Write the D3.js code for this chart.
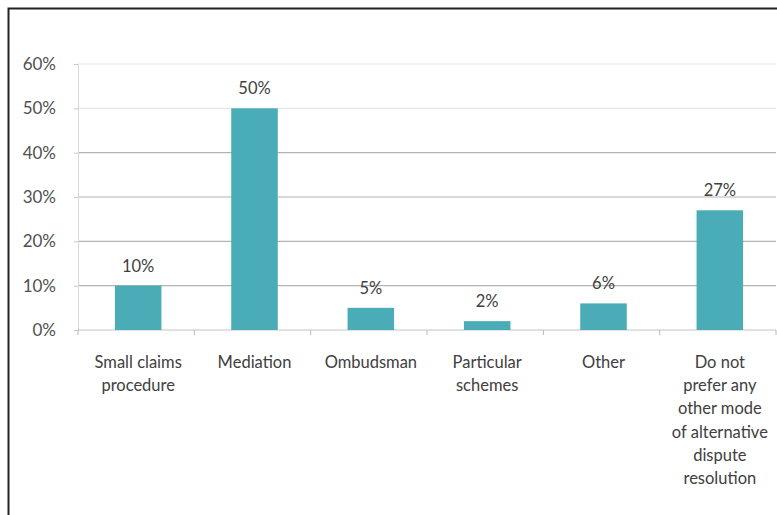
<!DOCTYPE html>
<html>
<head>
<meta charset="utf-8">
<script src="https://cdn.jsdelivr.net/npm/d3@7"></script>
<style>
  body { margin: 0; background: #fff; }
  svg { display: block; }
  .tick text { font-family: Lato, "Open Sans", sans-serif; }
</style>
</head>
<body>
<div id="chart"></div>
<script>
// Chart data
var categories = ["Small claims procedure", "Mediation", "Ombudsman", "Particular schemes", "Other", "Do not prefer any other mode of alternative dispute resolution"];
var labelLines = [
  ["Small claims", "procedure"],
  ["Mediation"],
  ["Ombudsman"],
  ["Particular", "schemes"],
  ["Other"],
  ["Do not", "prefer any", "other mode", "of alternative", "dispute", "resolution"]
];
var values = [0.10, 0.50, 0.05, 0.02, 0.06, 0.27];
var yTicks = [0, 0.1, 0.2, 0.3, 0.4, 0.5, 0.6];

var width = 777, height = 515;
var margin = {top: 64, right: 1, bottom: 185, left: 78};
var w = width - margin.left - margin.right,
    h = height - margin.top - margin.bottom;

var root = d3.select("#chart").append("svg")
  .attr("width", width)
  .attr("height", height);

// Outer frame (top and left edges visible)
root.append("path")
  .attr("d", "M8.5," + height + " V8.5 H" + width)
  .attr("fill", "none")
  .attr("stroke", "#222")
  .attr("stroke-width", 2);

var svg = root.append("g")
  .attr("transform", "translate(" + margin.left + "," + margin.top + ")");

var x = d3.scaleBand()
  .domain(categories)
  .range([2, w + 2])
  .paddingInner(0.6)
  .paddingOuter(0.3);

var y = d3.scaleLinear()
  .domain([0, 0.6])
  .range([h, 0]);

// Gridlines
svg.append("g")
  .selectAll("line")
  .data(yTicks.filter(function(d) { return d > 0; }))
  .enter()
  .append("line")
  .attr("x1", 0)
  .attr("x2", w)
  .attr("y1", function(d) { return y(d); })
  .attr("y2", function(d) { return y(d); })
  .attr("stroke", function(d) { return d >= 0.45 ? "#e6e6e6" : "#b4b4b4"; })
  .attr("stroke-width", 1.2);

// Y axis
var yAxis = svg.append("g")
  .call(d3.axisLeft(y).tickValues(yTicks).tickFormat(d3.format(".0%")).tickSize(4).tickPadding(18));
yAxis.select(".domain").attr("stroke", "#d8d8d8");
yAxis.selectAll(".tick line").attr("stroke", "#c8c8c8");
yAxis.selectAll("text").attr("fill", "#505050").style("font-size", "17px");

// X axis: ticks at category boundaries
svg.append("line")
  .attr("x1", 0).attr("x2", w)
  .attr("y1", h).attr("y2", h)
  .attr("stroke", "#c4c4c4");
svg.append("g")
  .selectAll("line")
  .data(d3.range(categories.length + 1))
  .enter()
  .append("line")
  .attr("x1", function(i) { return i * w / categories.length; })
  .attr("x2", function(i) { return i * w / categories.length; })
  .attr("y1", h).attr("y2", h + 5)
  .attr("stroke", "#b8b8b8");

// Bars
svg.selectAll("myRect")
  .data(values)
  .enter()
  .append("rect")
  .attr("x", function(d, i) { return x(categories[i]); })
  .attr("y", function(d) { return y(d); })
  .attr("width", x.bandwidth())
  .attr("height", function(d) { return h - y(d); })
  .attr("fill", "#4aacb6");

// Data labels
svg.selectAll("valLabel")
  .data(values)
  .enter()
  .append("text")
  .attr("x", function(d, i) { return x(categories[i]) + x.bandwidth() / 2; })
  .attr("y", function(d) { return y(d) - 14; })
  .attr("text-anchor", "middle")
  .attr("fill", "#404040")
  .style("font-family", "Lato, 'Open Sans', sans-serif")
  .style("font-size", "16.5px")
  .text(function(d) { return d3.format(".0%")(d); });

// Category labels
svg.selectAll("catLabel")
  .data(labelLines)
  .enter()
  .append("text")
  .attr("text-anchor", "middle")
  .attr("fill", "#404040")
  .style("font-family", "Lato, 'Open Sans', sans-serif")
  .style("font-size", "16.5px")
  .attr("transform", function(d, i) {
    return "translate(" + (x(categories[i]) + x.bandwidth() / 2) + "," + (h + 38) + ")";
  })
  .each(function(lines) {
    var t = d3.select(this);
    lines.forEach(function(line, j) {
      t.append("tspan").attr("x", 0).attr("y", j * 23.2).text(line);
    });
  });
</script>
</body>
</html>
